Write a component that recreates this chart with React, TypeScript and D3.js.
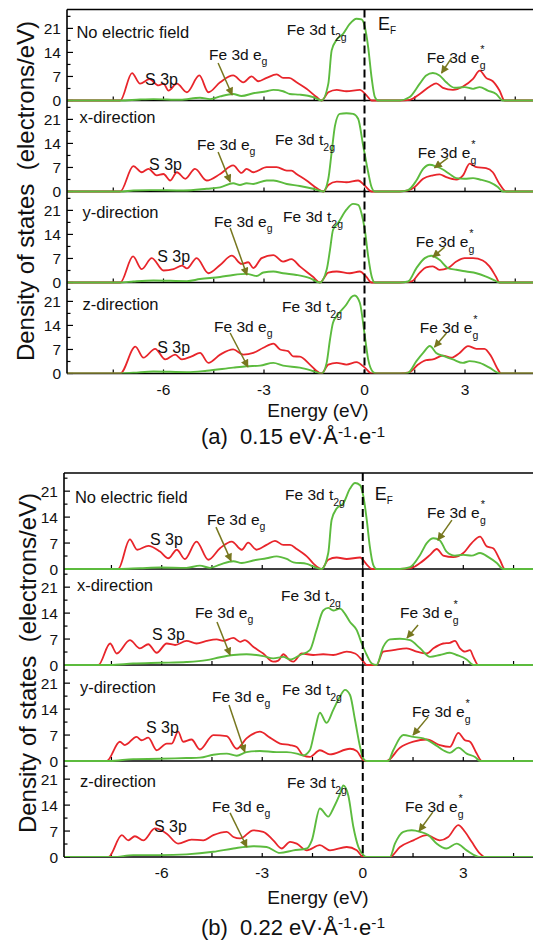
import React from 'react';
import * as d3 from 'd3';

type P = [number, number];

// ---------- DATA: panel (a) 0.15 eV/Å/e ----------
const a1S3p: P[] = [[-7.29,0],[-6.94,8.0],[-6.70,4.9],[-6.42,6.2],[-6.15,4.4],[-6.00,4.9],[-5.85,2.9],[-5.60,4.9],[-5.30,2.4],[-4.93,7.3],[-4.66,2.4],[-4.31,5.3],[-3.92,7.3],[-3.62,5.3],[-3.37,7.0],[-3.17,5.6],[-2.92,6.6],[-2.62,7.6],[-2.43,6.6],[-2.25,6.6],[-2.03,5.3],[-1.73,3.4],[-1.43,1.0],[-1.28,0],[-1.08,2.4],[-0.83,3.1],[-0.54,2.7],[-0.14,3.1],[0.06,1.5],[0.21,0],[1.05,0],[1.35,0.2],[1.65,1.9],[1.95,4.1],[2.14,5.0],[2.34,3.7],[2.64,3.1],[2.94,4.1],[3.24,6.3],[3.44,8.7],[3.63,6.6],[3.83,5.6],[4.03,2.9],[4.18,0]];
const a1Fe3d: P[] = [[-7.29,0],[-6.70,0.3],[-6.30,0.4],[-5.50,0.2],[-4.91,0.8],[-4.61,0.4],[-4.31,1.2],[-3.92,1.9],[-3.67,1.3],[-3.32,2.1],[-2.92,2.7],[-2.72,3.1],[-2.43,2.7],[-2.23,1.9],[-1.93,1.7],[-1.53,1.0],[-1.28,0],[-1.08,4.9],[-0.98,14.6],[-0.83,17.7],[-0.64,19.4],[-0.44,22.3],[-0.24,23.8],[-0.09,23.6],[0.01,21.4],[0.11,15.5],[0.21,6.8],[0.31,1.0],[0.41,0],[1.05,0],[1.35,1.0],[1.65,4.9],[1.84,7.3],[2.04,8.0],[2.24,7.3],[2.44,5.3],[2.69,3.7],[2.99,3.9],[3.24,3.4],[3.44,3.9],[3.68,2.9],[3.93,1.9],[4.13,0]];

const a2S3p: P[] = [[-7.29,0],[-6.90,7.4],[-6.65,5.6],[-6.45,6.6],[-6.20,4.7],[-6.00,5.1],[-5.80,3.2],[-5.60,5.6],[-5.35,3.7],[-5.06,6.6],[-4.71,3.2],[-4.31,5.1],[-3.92,7.6],[-3.67,5.4],[-3.52,6.6],[-3.32,5.6],[-2.92,7.1],[-2.62,7.1],[-2.32,6.1],[-2.18,6.1],[-2.03,5.1],[-1.73,3.2],[-1.43,1.0],[-1.23,0],[-1.08,1.9],[-0.83,2.9],[-0.54,2.7],[-0.19,3.2],[0.01,1.7],[0.21,0],[1.05,0],[1.30,0.3],[1.50,1.3],[1.75,3.7],[2.04,4.7],[2.24,5.0],[2.44,4.2],[2.74,3.5],[2.94,4.7],[3.14,8.1],[3.34,7.1],[3.63,6.8],[3.83,5.6],[4.03,2.2],[4.23,0]];
const a2Fe3d: P[] = [[-7.29,0],[-6.90,0.3],[-6.40,0.4],[-5.40,0.3],[-4.71,0.8],[-4.31,1.2],[-3.92,2.4],[-3.72,1.9],[-3.52,2.4],[-3.32,2.2],[-2.92,3.2],[-2.72,3.2],[-2.32,2.2],[-1.93,1.6],[-1.53,0.8],[-1.23,0],[-1.08,3.7],[-0.98,11.5],[-0.88,19.2],[-0.74,22.6],[-0.54,22.8],[-0.34,22.6],[-0.19,21.2],[-0.04,13.4],[0.11,5.6],[0.21,1.3],[0.31,0],[1.05,0],[1.30,0.4],[1.55,3.2],[1.75,6.6],[1.95,7.8],[2.14,7.3],[2.34,6.4],[2.54,5.1],[2.74,3.9],[2.99,3.7],[3.24,3.9],[3.44,3.5],[3.73,2.7],[3.98,1.3],[4.13,0]];

const a3S3p: P[] = [[-7.29,0],[-6.91,7.6],[-6.65,3.9],[-6.35,7.1],[-6.00,3.5],[-5.70,3.9],[-5.45,4.9],[-5.30,4.1],[-5.01,7.1],[-4.66,2.7],[-4.31,5.1],[-3.96,7.8],[-3.67,5.4],[-3.47,5.9],[-3.32,4.2],[-3.07,7.1],[-2.72,8.0],[-2.43,6.1],[-2.18,6.8],[-1.93,4.7],[-1.53,1.6],[-1.33,0],[-1.08,2.9],[-0.83,3.2],[-0.44,2.7],[-0.14,3.2],[0.06,1.6],[0.21,0],[1.05,0],[1.40,0.3],[1.65,2.9],[1.84,4.4],[2.04,4.7],[2.24,3.7],[2.49,4.2],[2.74,6.1],[2.99,7.1],[3.24,7.1],[3.53,6.4],[3.73,4.7],[3.93,1.6],[4.03,0]];
const a3Fe3d: P[] = [[-7.29,0],[-6.90,0.3],[-6.30,0.6],[-5.30,0.4],[-4.91,1.0],[-4.31,1.6],[-3.92,2.2],[-3.52,2.5],[-3.22,1.9],[-3.02,2.9],[-2.72,3.2],[-2.43,2.7],[-2.03,2.2],[-1.63,1.3],[-1.33,0],[-1.13,3.7],[-1.03,9.5],[-0.94,15.3],[-0.79,17.3],[-0.54,21.2],[-0.34,22.9],[-0.19,22.6],[-0.09,20.2],[0.01,15.3],[0.11,7.6],[0.21,1.9],[0.31,0],[1.05,0],[1.30,0.3],[1.55,4.2],[1.80,7.1],[2.00,7.8],[2.24,6.6],[2.49,4.2],[2.74,3.7],[3.04,3.2],[3.34,2.7],[3.63,1.7],[3.88,0.6],[4.03,0]];

const a4S3p: P[] = [[-7.29,0],[-6.84,7.8],[-6.60,4.6],[-6.25,7.2],[-5.95,4.1],[-5.65,5.5],[-5.45,4.1],[-5.16,5.0],[-4.91,6.0],[-4.66,3.1],[-4.31,5.5],[-3.92,7.0],[-3.62,5.5],[-3.32,6.0],[-3.02,7.5],[-2.72,8.7],[-2.52,7.0],[-2.28,6.5],[-2.13,5.0],[-1.93,4.9],[-1.63,2.6],[-1.38,0.4],[-1.28,0],[-1.08,2.6],[-0.83,3.1],[-0.54,2.6],[-0.24,3.3],[0.01,1.7],[0.21,0],[1.05,0],[1.35,0.4],[1.60,2.6],[1.84,3.9],[2.04,4.1],[2.34,5.2],[2.59,4.6],[2.84,6.0],[3.09,8.0],[3.34,7.2],[3.58,7.2],[3.78,5.0],[3.98,1.2],[4.08,0]];
const a4Fe3d: P[] = [[-7.29,0],[-6.90,0.2],[-6.30,0.6],[-5.30,0.4],[-4.71,0.8],[-3.92,1.7],[-3.52,2.1],[-3.12,2.3],[-2.72,3.1],[-2.43,2.3],[-1.93,1.7],[-1.53,0.7],[-1.28,0],[-1.13,3.1],[-1.03,9.9],[-0.94,14.8],[-0.79,17.2],[-0.54,20.1],[-0.39,22.3],[-0.29,22.7],[-0.14,20.6],[0.01,10.9],[0.11,4.1],[0.26,0.4],[0.36,0],[1.05,0],[1.30,0.2],[1.55,3.6],[1.75,6.0],[1.95,8.0],[2.14,6.0],[2.39,5.0],[2.64,4.1],[2.94,3.1],[3.14,3.6],[3.44,3.1],[3.73,1.7],[3.98,0.2],[4.08,0]];

// ---------- DATA: panel (b) 0.22 eV/Å/e ----------
const b1S3p: P[] = [[-7.30,0],[-6.95,8.0],[-6.73,5.2],[-6.40,6.25],[-6.05,4.7],[-5.80,2.9],[-5.55,5.2],[-5.31,2.7],[-4.96,7.4],[-4.61,2.5],[-4.26,5.6],[-3.91,7.4],[-3.61,5.2],[-3.42,7.1],[-3.17,5.2],[-2.87,6.5],[-2.62,7.6],[-2.37,6.5],[-2.17,6.5],[-1.97,5.4],[-1.67,3.4],[-1.38,0.7],[-1.23,0],[-1.03,2.5],[-0.78,3.1],[-0.48,2.7],[-0.08,3.1],[0.12,1.2],[0.27,0],[1.11,0],[1.46,0.3],[1.71,1.6],[2.01,3.8],[2.21,5.4],[2.40,3.6],[2.70,3.2],[3.00,4.3],[3.25,7.0],[3.50,8.75],[3.70,6.1],[3.89,5.6],[4.09,2.5],[4.24,0]];
const b1Fe3d: P[] = [[-7.30,0],[-6.65,0.2],[-6.05,0.4],[-5.26,0.3],[-4.86,0.9],[-4.56,0.3],[-4.26,1.2],[-3.86,2.1],[-3.61,1.6],[-3.27,2.3],[-2.87,2.9],[-2.57,3.4],[-2.27,2.7],[-2.07,1.8],[-1.67,1.4],[-1.48,0.7],[-1.23,0],[-1.03,4.3],[-0.93,13.2],[-0.78,16.3],[-0.58,17.7],[-0.38,21.7],[-0.23,23.2],[-0.08,22.6],[0.02,19.5],[0.12,13.2],[0.21,6.1],[0.31,1.2],[0.41,0],[1.11,0],[1.41,0.5],[1.71,3.8],[1.91,7.0],[2.11,8.3],[2.30,7.7],[2.50,4.7],[2.75,3.6],[3.00,3.8],[3.25,3.6],[3.50,4.3],[3.75,3.2],[4.00,1.6],[4.19,0]];

const b2S3p: P[] = [[-7.89,0],[-7.54,5.8],[-7.34,3.1],[-6.95,6.7],[-6.65,4.5],[-6.40,5.6],[-6.15,3.3],[-5.85,5.8],[-5.60,5.4],[-5.26,6.5],[-4.96,5.8],[-4.66,6.5],[-4.36,6.9],[-4.16,6.5],[-3.86,7.3],[-3.66,6.25],[-3.52,6.7],[-3.27,4.9],[-2.97,3.1],[-2.67,0.9],[-2.52,1.2],[-2.37,2.9],[-2.17,1.2],[-2.07,0.9],[-1.82,3.1],[-1.48,2.7],[-1.18,2.9],[-0.88,2.7],[-0.48,3.6],[-0.23,3.1],[0.02,0.9],[0.12,0],[0.41,0],[0.61,3.6],[0.91,4.0],[1.31,4.5],[1.61,3.6],[1.91,3.1],[2.11,4.5],[2.40,5.8],[2.60,6.0],[2.75,6.5],[2.90,4.5],[3.05,3.6],[3.20,4.0],[3.30,2.2],[3.45,0]];
const b2Fe3d: P[] = [[-7.54,0],[-6.85,0.4],[-6.05,0.6],[-5.26,0.8],[-4.66,1.3],[-4.26,2.1],[-3.86,2.7],[-3.47,2.9],[-2.97,2.4],[-2.67,1.8],[-2.37,2.2],[-2.17,1.5],[-1.87,2.7],[-1.58,4.0],[-1.38,9.4],[-1.18,14.7],[-1.03,15.4],[-0.88,14.7],[-0.68,15.2],[-0.53,13.8],[-0.38,11.6],[-0.18,9.4],[-0.03,5.8],[0.12,2.7],[0.27,0.4],[0.41,0],[0.61,4.9],[0.81,6.9],[1.11,7.1],[1.41,6.7],[1.71,4.5],[2.01,2.2],[2.30,2.7],[2.60,3.3],[2.80,2.7],[3.10,1.5],[3.30,0]];

const b3S3p: P[] = [[-7.64,0],[-7.25,5.2],[-7.10,4.3],[-6.75,6.5],[-6.60,5.6],[-6.40,6.3],[-6.15,2.9],[-5.85,4.7],[-5.70,4.7],[-5.51,7.9],[-5.36,5.2],[-5.11,5.8],[-4.86,3.1],[-4.46,7.0],[-4.06,6.7],[-3.76,3.3],[-3.47,6.1],[-3.07,7.9],[-2.77,6.3],[-2.47,4.7],[-2.17,4.3],[-1.97,3.8],[-1.78,1.5],[-1.58,1.1],[-1.28,2.9],[-0.98,1.8],[-0.38,3.3],[-0.18,2.7],[0.02,0.2],[0.12,0],[0.71,0],[1.11,3.6],[1.51,5.2],[1.91,5.8],[2.30,4.3],[2.60,3.8],[2.85,7.6],[3.05,5.6],[3.20,5.2],[3.40,2.0],[3.55,0]];
const b3Fe3d: P[] = [[-7.54,0],[-6.85,0.5],[-6.05,0.6],[-5.26,0.8],[-4.86,0.9],[-4.46,1.7],[-4.06,2.0],[-3.76,1.4],[-3.47,2.4],[-3.07,2.7],[-2.57,2.4],[-2.27,2.4],[-1.97,2.0],[-1.78,1.5],[-1.58,2.9],[-1.43,8.3],[-1.28,13.0],[-1.08,10.3],[-0.88,13.8],[-0.68,17.4],[-0.53,19.2],[-0.38,17.8],[-0.23,11.0],[-0.08,3.8],[0.02,0.6],[0.12,0],[0.76,0],[0.91,2.9],[1.21,7.0],[1.51,6.5],[1.81,6.1],[2.11,4.7],[2.40,2.9],[2.60,2.2],[2.85,3.6],[3.10,2.0],[3.35,1.1],[3.50,0]];

const b4S3p: P[] = [[-7.59,0],[-7.19,5.9],[-7.00,4.5],[-6.80,5.6],[-6.55,4.5],[-6.20,7.7],[-5.85,6.3],[-5.51,3.6],[-5.11,4.7],[-4.76,4.5],[-4.46,5.9],[-4.06,6.8],[-3.86,5.4],[-3.66,5.0],[-3.27,7.2],[-2.97,6.8],[-2.67,4.5],[-2.42,2.3],[-2.17,4.1],[-1.97,3.6],[-1.67,1.8],[-1.28,3.2],[-0.98,1.8],[-0.48,2.7],[-0.18,1.8],[0.02,0],[0.81,0],[1.11,2.7],[1.51,4.5],[1.91,5.9],[2.30,4.5],[2.55,5.4],[2.85,8.6],[3.05,6.8],[3.25,4.1],[3.50,0.9],[3.65,0]];
const b4Fe3d: P[] = [[-7.45,0],[-6.85,0.5],[-6.05,0.5],[-5.26,0.7],[-4.46,1.4],[-3.86,2.3],[-3.27,2.9],[-2.87,2.7],[-2.47,1.1],[-2.07,1.8],[-1.67,2.3],[-1.52,4.5],[-1.28,13.1],[-1.03,10.9],[-0.88,13.1],[-0.68,17.0],[-0.58,19.3],[-0.43,16.5],[-0.28,8.1],[-0.13,2.7],[0.02,0.5],[0.12,0],[0.81,0],[0.96,3.6],[1.21,6.8],[1.46,7.2],[1.71,6.8],[1.96,5.9],[2.21,3.6],[2.50,2.3],[2.80,3.6],[3.10,1.8],[3.40,0.2],[3.50,0]];

// ---------- axis ticks ----------
const xDomain: [number, number] = [-8.95, 5.5];
const xTickValues = [-7.5, -6, -4.5, -3, -1.5, 0, 1.5, 3, 4.5];
const xTickLabels = [-6, -3, 0, 3];
const yMajorTicks = [0, 7, 14, 21];
const yMinorTicks = [3.5, 10.5, 17.5, 24.5];
const subplotLabels = ['No electric field', 'x-direction', 'y-direction', 'z-direction'];
const captions = [{ tag: '(a)', value: '0.15' }, { tag: '(b)', value: '0.22' }];

// ---------- annotation anchors (data units: [energy, DOS]) ----------
type Ann = { title: P; s3p: P; eg: P; egArrow: [P, P]; t2g: P; egs: P; egsArrow: [P, P]; ef?: P };
const annA: Ann[] = [
  { title: [-8.6, 18.2], s3p: [-6.55, 4.6], eg: [-4.64, 11.8], egArrow: [[-4.37, 10.9], [-3.95, 1.6]], t2g: [-2.32, 19.1], egs: [1.86, 10.9], egsArrow: [[2.6, 12.4], [2.3, 8.0]], ef: [0.4, 20.6] },
  { title: [-8.51, 20.0], s3p: [-6.43, 6.3], eg: [-5.0, 12.1], egArrow: [[-4.37, 11.5], [-4.01, 2.8]], t2g: [-2.67, 13.6], egs: [1.59, 9.8], egsArrow: [[2.49, 9.8], [2.09, 6.9]] },
  { title: [-8.42, 18.8], s3p: [-6.19, 6.0], eg: [-4.49, 16.2], egArrow: [[-4.01, 15.9], [-3.51, 2.2]], t2g: [-2.43, 17.6], egs: [1.53, 10.3], egsArrow: [[2.39, 10.3], [2.04, 7.4]] },
  { title: [-8.42, 18.5], s3p: [-6.19, 6.0], eg: [-4.49, 12.1], egArrow: [[-4.01, 11.8], [-3.48, 1.9]], t2g: [-2.46, 17.9], egs: [1.65, 11.8], egsArrow: [[2.45, 11.8], [2.09, 7.7]] },
];
const annB: Ann[] = [
  { title: [-8.59, 17.8], s3p: [-6.35, 6.5], eg: [-4.65, 11.9], egArrow: [[-4.38, 11.3], [-3.93, 2.2]], t2g: [-2.32, 18.6], egs: [1.92, 13.7], egsArrow: [[2.66, 13.2], [2.24, 7.8]], ef: [0.36, 18.6] },
  { title: [-8.53, 19.9], s3p: [-6.29, 6.7], eg: [-5.01, 12.7], egArrow: [[-4.35, 11.6], [-3.96, 2.7]], t2g: [-2.44, 17.3], egs: [1.11, 12.7], egsArrow: [[1.65, 10.8], [1.32, 7.3]] },
  { title: [-8.44, 18.3], s3p: [-6.47, 7.5], eg: [-4.5, 15.9], egArrow: [[-3.99, 15.1], [-3.52, 2.4]], t2g: [-2.41, 17.8], egs: [1.47, 11.9], egsArrow: [[1.95, 11.9], [1.5, 7.0]] },
  { title: [-8.44, 18.9], s3p: [-6.23, 6.7], eg: [-4.5, 12.1], egArrow: [[-3.96, 11.9], [-3.46, 2.7]], t2g: [-2.26, 18.6], egs: [1.26, 12.1], egsArrow: [[2.09, 12.1], [1.68, 7.0]] },
];

const seriesA = [[a1S3p, a1Fe3d], [a2S3p, a2Fe3d], [a3S3p, a3Fe3d], [a4S3p, a4Fe3d]];
const seriesB = [[b1S3p, b1Fe3d], [b2S3p, b2Fe3d], [b3S3p, b3Fe3d], [b4S3p, b4Fe3d]];

// ---------- layout ----------
const FONT = '"Liberation Sans", Arial, Helvetica, sans-serif';
const RED = '#e8252b';
const GREEN = '#5cbb3e';
const OLIVE = '#77771f';

const layouts = [
  { id: 'a', left: 67, right: 548, px6: 163.5, px3: 465, top: 9.5, h: 91, ymax: 26.5, tickY: 395, titleY: 416.5, capY: 443.5, yTitle: [34, 191], series: seriesA, ann: annA },
  { id: 'b', left: 64, right: 548, px6: 161.7, px3: 463.3, top: 473, h: 96, ymax: 25.9, tickY: 878, titleY: 904, capY: 935, yTitle: [36, 663], series: seriesB, ann: annB },
];

function Panel({ L, idx }: { L: typeof layouts[number]; idx: number }) {
  const x = d3.scaleLinear().domain([-6, 3]).range([L.px6, L.px3]);
  const bottom = L.top + 4 * L.h;
  const x0 = x(0);
  const clipId = `clip-${L.id}`;
  const cap = captions[idx];
  return (
    <g>
      <defs>
        <clipPath id={clipId}>
          <rect x={L.left} y={L.top} width={L.right - L.left} height={4 * L.h} />
        </clipPath>
        <marker id={`arrow-${L.id}`} viewBox="0 0 10 10" refX={9} refY={5} markerWidth={9} markerHeight={8} markerUnits="userSpaceOnUse" orient="auto">
          <path d="M0,0 L10,5 L0,10 Z" fill={OLIVE} />
        </marker>
      </defs>
      {L.series.map((pair, i) => {
        const top = L.top + i * L.h;
        const y = d3.scaleLinear().domain([0, L.ymax]).range([top + L.h, top]);
        const line = d3
          .line<P>()
          .x((d) => x(d[0]))
          .y((d) => y(d[1]))
          .curve(d3.curveMonotoneX);
        const ext = (s: P[]): P[] => [[xDomain[0], 0], ...s, [xDomain[1], 0]];
        const a = L.ann[i];
        const pt = (p: P) => [x(p[0]), y(p[1])];
        const [tx, ty] = pt(a.title);
        const [sx, sy] = pt(a.s3p);
        const [ex, ey] = pt(a.eg);
        const [tgx, tgy] = pt(a.t2g);
        const [esx, esy] = pt(a.egs);
        const [ea1x, ea1y] = pt(a.egArrow[0]);
        const [ea2x, ea2y] = pt(a.egArrow[1]);
        const [sa1x, sa1y] = pt(a.egsArrow[0]);
        const [sa2x, sa2y] = pt(a.egsArrow[1]);
        return (
          <g key={i}>
            <line x1={L.left} x2={L.right} y1={top + L.h} y2={top + L.h} stroke="#000" strokeWidth={1.6} />
            {xTickValues.map((t) => (
              <line key={t} x1={x(t)} x2={x(t)} y1={top + L.h} y2={top + L.h - 4} stroke="#000" strokeWidth={1.2} />
            ))}
            {yMajorTicks.map((t) => (
              <line key={'M' + t} x1={L.left} x2={L.left + 6} y1={y(t)} y2={y(t)} stroke="#000" strokeWidth={1.2} />
            ))}
            {yMinorTicks.map((t) => (
              <line key={'m' + t} x1={L.left} x2={L.left + 3.5} y1={y(t)} y2={y(t)} stroke="#000" strokeWidth={1.2} />
            ))}
            {yMajorTicks.map((t) => (
              <text key={'l' + t} x={L.left - 6} y={y(t) + 5.5} fontSize={15.5} textAnchor="end" fontFamily={FONT} fill="#111">
                {t}
              </text>
            ))}
            <g clipPath={`url(#${clipId})`}>
              <path d={line(ext(pair[0])) || ''} fill="none" stroke={RED} strokeWidth={1.8} />
              <path d={line(ext(pair[1])) || ''} fill="none" stroke={GREEN} strokeWidth={1.9} />
            </g>
            <g fontFamily={FONT} fill="#111">
              <text x={tx} y={ty} fontSize={16.5}>{subplotLabels[i]}</text>
              <text x={sx} y={sy} fontSize={16}>S 3p</text>
              <text x={ex} y={ey} fontSize={15.5}>
                Fe 3d e<tspan dy={5} fontSize={10.5}>g</tspan>
              </text>
              <text x={tgx} y={tgy} fontSize={15.5}>
                Fe 3d t<tspan dy={6} fontSize={10.5}>2g</tspan>
              </text>
              <text x={esx} y={esy} fontSize={15.5}>
                Fe 3d e<tspan dx={1} dy={-10} fontSize={11}>*</tspan>
                <tspan dx={-5} dy={16} fontSize={10.5}>g</tspan>
              </text>
              {a.ef && (
                <text x={pt(a.ef)[0]} y={pt(a.ef)[1]} fontSize={18}>
                  E<tspan dy={4} fontSize={10}>F</tspan>
                </text>
              )}
            </g>
            <line x1={ea1x} y1={ea1y} x2={ea2x} y2={ea2y} stroke={OLIVE} strokeWidth={1.5} markerEnd={`url(#arrow-${L.id})`} />
            <line x1={sa1x} y1={sa1y} x2={sa2x} y2={sa2y} stroke={OLIVE} strokeWidth={1.5} markerEnd={`url(#arrow-${L.id})`} />
          </g>
        );
      })}
      <line x1={L.left} x2={L.right} y1={L.top} y2={L.top} stroke="#000" strokeWidth={1.6} />
      <line x1={L.left} x2={L.left} y1={L.top} y2={bottom} stroke="#000" strokeWidth={1.6} />
      <line x1={x0} x2={x0} y1={L.top} y2={bottom} stroke="#000" strokeWidth={2} strokeDasharray="8,4" />
      {xTickLabels.map((t) => (
        <text key={t} x={x(t)} y={L.tickY} fontSize={15.5} textAnchor="middle" fontFamily={FONT} fill="#111">
          {t}
        </text>
      ))}
      <text x={318} y={L.titleY} fontSize={19} textAnchor="middle" fontFamily={FONT} fill="#111">
        Energy (eV)
      </text>
      <text x={293} y={L.capY} fontSize={22} textAnchor="middle" fontFamily={FONT} fill="#111" style={{ whiteSpace: 'pre' }}>
        {`${cap.tag}  ${cap.value} eV·Å`}
        <tspan dy={-7} fontSize={15.5}>-1</tspan>
        <tspan dy={7}>·e</tspan>
        <tspan dy={-7} fontSize={15.5}>-1</tspan>
      </text>
      <text
        transform={`translate(${L.yTitle[0]},${L.yTitle[1]}) rotate(-90)`}
        fontSize={24}
        textAnchor="middle"
        fontFamily={FONT}
        fill="#111"
        style={{ whiteSpace: 'pre' }}
      >
        {'Density of states  (electrons/eV)'}
      </text>
    </g>
  );
}

export default function App() {
  return (
    <svg
      width={533}
      height={940}
      viewBox="0 0 533 940"
      style={{ position: 'fixed', left: 0, top: 0, background: '#fff', display: 'block' }}
    >
      <rect x={0} y={0} width={533} height={940} fill="#fff" />
      {layouts.map((L, i) => (
        <Panel key={L.id} L={L} idx={i} />
      ))}
    </svg>
  );
}
